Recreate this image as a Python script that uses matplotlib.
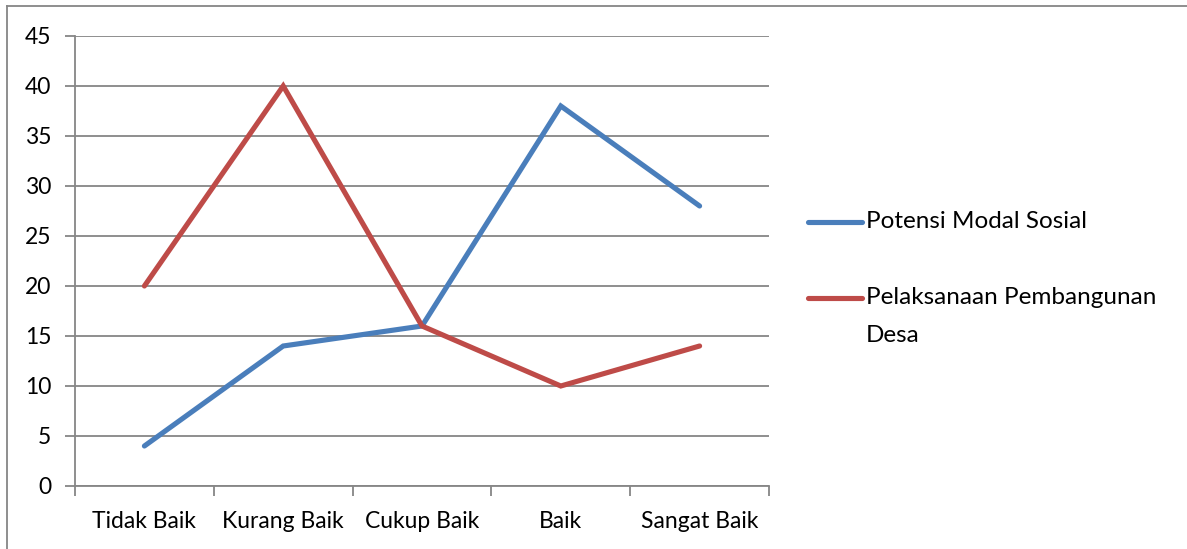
import matplotlib
matplotlib.use("Agg")
import matplotlib.pyplot as plt
from matplotlib.lines import Line2D

categories = ["Tidak Baik", "Kurang Baik", "Cukup Baik", "Baik", "Sangat Baik"]
potensi_modal_sosial = [4, 14, 16, 38, 28]
pelaksanaan_pembangunan = [20, 40, 16, 10, 14]
y_ticks = [0, 5, 10, 15, 20, 25, 30, 35, 40, 45]
series_names = ["Potensi Modal Sosial", "Pelaksanaan Pembangunan\nDesa"]

BLUE = "#4A7EBB"
RED = "#BE4B48"
GRID = "#868686"
FS = 16.5
LEG_FS = 17.5
LW = 3.7

plt.rcParams["font.family"] = ["Lato", "DejaVu Sans"]

W, H = 1187, 549
fig = plt.figure(figsize=(W / 100, H / 100), dpi=100)
ax = fig.add_axes([75 / W, 1 - 486 / H, (769 - 75) / W, (486 - 36) / H])

x = list(range(len(categories)))
ax.plot(x, potensi_modal_sosial, color=BLUE, lw=LW, solid_joinstyle="miter",
        solid_capstyle="round", zorder=3)
ax.plot(x, pelaksanaan_pembangunan, color=RED, lw=LW, solid_joinstyle="miter",
        solid_capstyle="round", zorder=3)

ax.set_xlim(-0.5, len(categories) - 0.5)
ax.set_ylim(0, 45)
ax.set_yticks(y_ticks)
ax.set_yticklabels([str(v) for v in y_ticks], fontsize=FS)
ax.yaxis.grid(True, color=GRID, lw=1.3)
ax.set_axisbelow(True)

# category labels centred, tick marks at category boundaries
ax.set_xticks(x)
ax.set_xticklabels(categories, fontsize=FS)
ax.tick_params(axis="x", length=0, pad=18)
ax.set_xticks([i - 0.5 for i in range(len(categories) + 1)], minor=True)
ax.tick_params(axis="x", which="minor", length=7, width=1.3, color=GRID)
ax.tick_params(axis="y", length=7, width=1.3, color=GRID, pad=10)

for side in ["top", "right"]:
    ax.spines[side].set_visible(False)
for side in ["left", "bottom"]:
    ax.spines[side].set_color(GRID)
    ax.spines[side].set_linewidth(1.3)

# legend: line sample aligned with the first line of its label
for color, name, ypx in [(BLUE, series_names[0], 222), (RED, series_names[1], 298)]:
    yf = 1 - ypx / H
    fig.add_artist(Line2D([808 / W, 862 / W], [yf, yf], color=color, lw=LW,
                          solid_capstyle="round", transform=fig.transFigure))
    first, *rest = name.split("\n")
    fig.text(866 / W, yf, first, fontsize=LEG_FS, va="center", ha="left")
    for i, line in enumerate(rest, start=1):
        fig.text(866 / W, 1 - (ypx + 38 * i) / H, line, fontsize=LEG_FS,
                 va="center", ha="left")

# chart frame edges
fig.add_artist(Line2D([7 / W, 1], [1 - 6 / H, 1 - 6 / H], color=GRID, lw=1.3,
                      transform=fig.transFigure))
fig.add_artist(Line2D([7 / W, 7 / W], [1 - 6 / H, 0], color=GRID, lw=1.3,
                      transform=fig.transFigure))

fig.savefig("out.png", dpi=100)
